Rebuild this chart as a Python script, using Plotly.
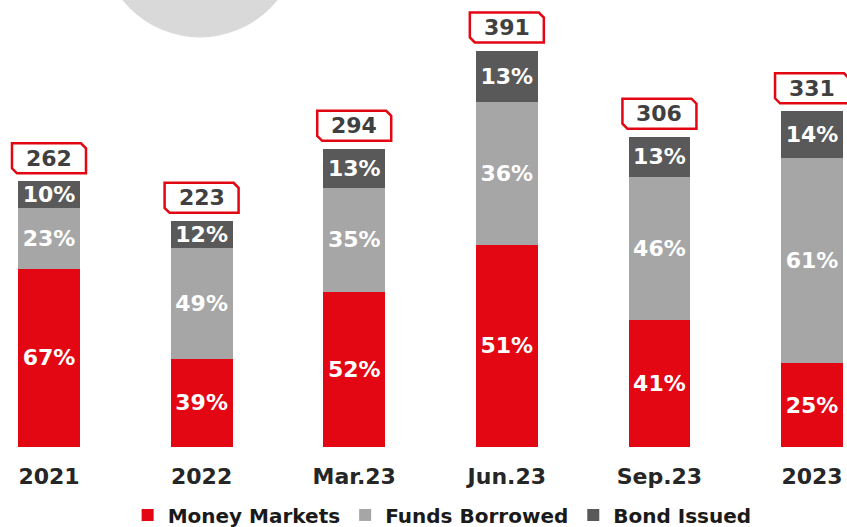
import plotly.graph_objects as go

categories = ["2021", "2022", "Mar.23", "Jun.23", "Sep.23", "2023"]
totals = [262, 223, 294, 391, 306, 331]
money_markets_pct = [67, 39, 52, 51, 41, 25]
funds_borrowed_pct = [23, 49, 35, 36, 46, 61]
bond_issued_pct = [10, 12, 13, 13, 13, 14]

RED = "#E30613"
LGRAY = "#A6A6A6"
DGRAY = "#595959"
TXT = "#404040"
FONT = "Tahoma, Verdana, DejaVu Sans, sans-serif"

def seg(pcts):
    return [t * p / 100 for t, p in zip(totals, pcts)]

fig = go.Figure()
for name, pcts, col in [("Money Markets", money_markets_pct, RED),
                        ("Funds Borrowed", funds_borrowed_pct, LGRAY),
                        ("Bond Issued", bond_issued_pct, DGRAY)]:
    fig.add_trace(go.Bar(
        x=list(range(len(categories))), y=seg(pcts), name=f"<b>{name}</b>",
        marker=dict(color=col, line=dict(width=0)),
        text=[f"<b>{p}%</b>" for p in pcts], textposition="inside",
        insidetextanchor="middle", constraintext="none",
        textfont=dict(color="white", size=22, family=FONT),
        width=0.405, hoverinfo="skip"))

# chamfered label box (style only, anchored to each total)
BOX = "M-32,8 L37,8 L37,33 L32,38 L-37,38 L-37,13 Z"
for i, t in enumerate(totals):
    fig.add_shape(type="path", xref="x", yref="y", xsizemode="pixel", ysizemode="pixel",
                  xanchor=i, yanchor=t, path=BOX, fillcolor="white",
                  line=dict(color=RED, width=2.5), layer="above")
    fig.add_annotation(x=i, y=t, text=f"<b>{t}</b>", showarrow=False,
                       xref="x", yref="y", yanchor="middle", yshift=23,
                       font=dict(size=22, color=TXT, family=FONT))

fig.add_shape(type="circle", xref="paper", yref="paper", layer="below",
              x0=(200 - 99) / 847, x1=(200 + 99) / 847,
              y0=1 + 61.6 / 447 - 99 / 447, y1=1 + 61.6 / 447 + 99 / 447,
              fillcolor="#D9D9D9", line=dict(width=0))

fig.update_layout(
    barmode="stack", width=847, height=527,
    margin=dict(l=0, r=0, t=0, b=80, autoexpand=False),
    paper_bgcolor="white", plot_bgcolor="white",
    font=dict(family=FONT, color=TXT),
    showlegend=True,
    legend=dict(orientation="h", x=0.522, xanchor="center", y=-0.152, yanchor="middle",
                font=dict(size=20, color="#1A1A1A", family=FONT),
                itemwidth=30, traceorder="normal", itemclick=False),
    xaxis=dict(range=[-0.321, 5.229], showgrid=False, zeroline=False, showline=False,
               ticks="", tickfont=dict(size=22, color="#262626", family=FONT),
               tickvals=list(range(len(categories))),
               ticktext=[f"<b>{c}</b>" for c in categories],
               ticklabelstandoff=14, fixedrange=True, automargin=False),
    yaxis=dict(range=[0, 440.8], visible=False, fixedrange=True),
)

fig.write_html("out.html", config={"displayModeBar": False},
               post_script="document.body.style.margin='0';document.body.style.overflow='hidden';")
